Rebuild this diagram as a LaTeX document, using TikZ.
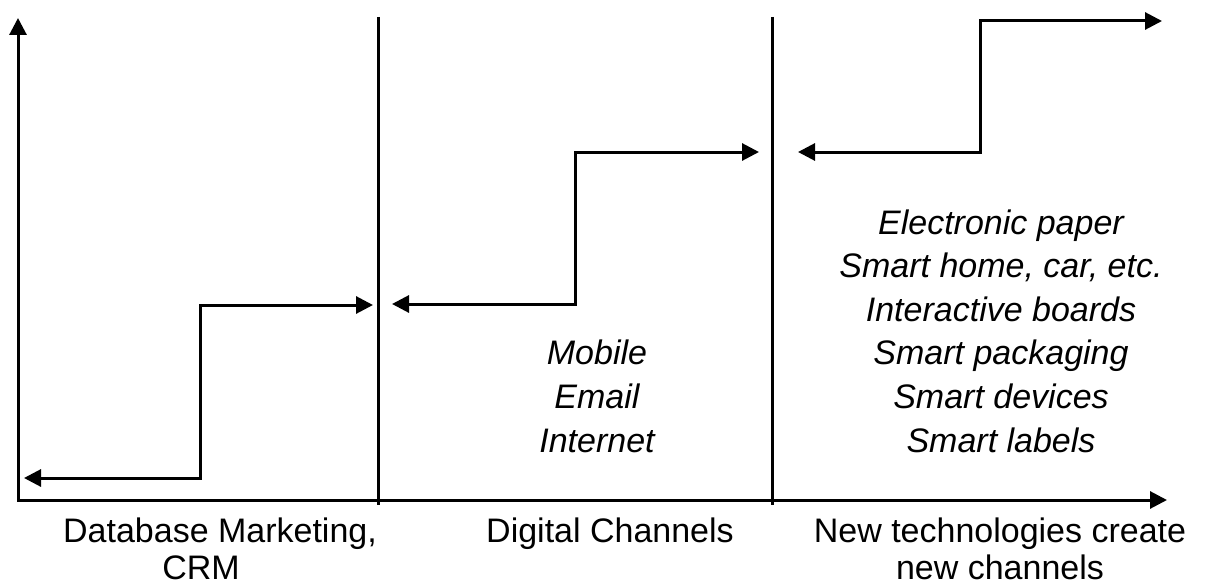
\documentclass[tikz,border=0pt]{standalone}
\usepackage{fontspec}
\setmainfont{Liberation Sans}
\usetikzlibrary{arrows.meta}
\tikzset{
  ln/.style={line width=3pt, line cap=butt, line join=miter},
  both/.style={{Triangle[length=17pt,width=17pt]}-{Triangle[length=17pt,width=17pt]}},
  lbl/.style={inner sep=0pt, align=center, anchor=base, font=\fontsize{34}{37}\selectfont},
  lst/.style={inner sep=0pt, align=center, anchor=base, font=\fontsize{34}{43.6}\selectfont\itshape},
}
\begin{document}
\begin{tikzpicture}[x=1pt,y=-1pt]
\useasboundingbox (0,0) rectangle (1213,586);
% axes
\coordinate (ytip) at (18,18);
\coordinate (orig) at (18,500);
\coordinate (xtip) at (1167,500);
\draw[ln,both] (ytip) -- (orig) -- (xtip);
% dividers
\coordinate (d1t) at (378,17); \coordinate (d1b) at (378,505);
\coordinate (d2t) at (772,17); \coordinate (d2b) at (772,505);
\draw[ln] (d1t) -- (d1b);
\draw[ln] (d2t) -- (d2b);
% steps
\coordinate (s1a) at (24,478); \coordinate (s1b) at (200,305); \coordinate (s1c) at (373,305);
\coordinate (s2a) at (392,304); \coordinate (s2b) at (575,152); \coordinate (s2c) at (759,152);
\coordinate (s3a) at (798,152); \coordinate (s3b) at (980,21); \coordinate (s3c) at (1162,21);
\draw[ln,both] (s1a) -| (s1b) -- (s1c);
\draw[ln,both] (s2a) -| (s2b) -- (s2c);
\draw[ln,both] (s3a) -| (s3b) -- (s3c);
% bottom labels
\node[lbl] (l1) at (220,579) {Database Marketing,\\\hspace*{-38pt}CRM};
\node[lbl] (l2) at (610,542) {Digital Channels};
\node[lbl] (l3) at (1000,579) {New technologies create\\new channels};
% lists
\node[lst] (m1) at (597,452) {Mobile\\Email\\Internet};
\node[lst] (m2) at (1001,452) {Electronic paper\\Smart home, car, etc.\\Interactive boards\\Smart packaging\\Smart devices\\Smart labels};
\end{tikzpicture}
\end{document}
